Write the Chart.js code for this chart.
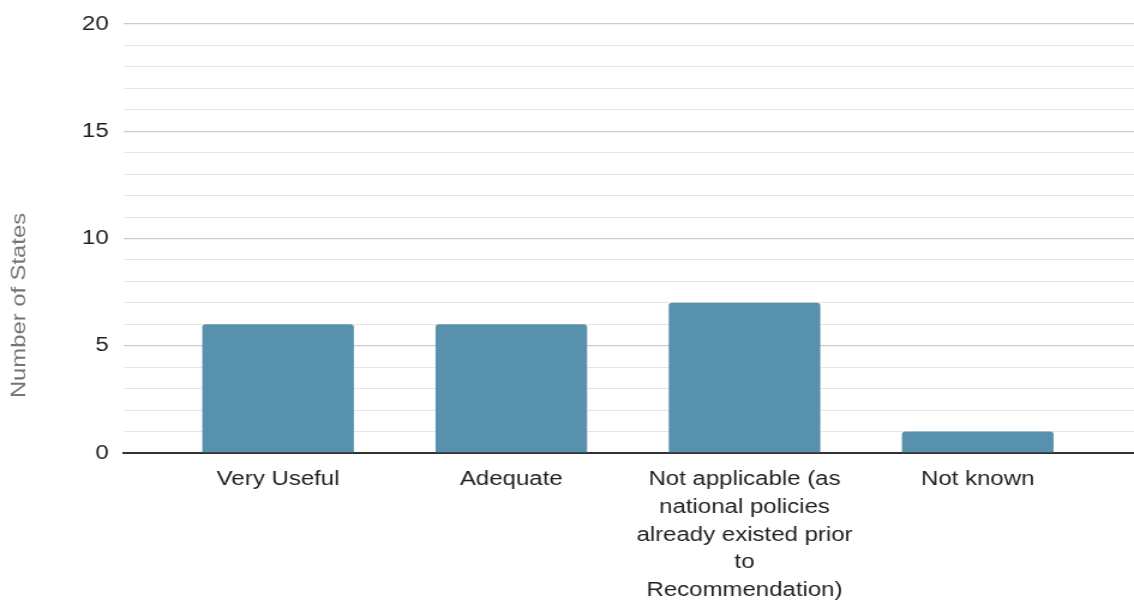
<!DOCTYPE html>
<html>
<head>
<meta charset="utf-8">
<script src="https://cdn.jsdelivr.net/npm/chart.js@4/dist/chart.umd.min.js"></script>
<style>
  html, body { margin: 0; padding: 0; background: #ffffff; overflow: hidden; }
  /* chart is laid out at 945px and widened to the full 1134px page */
  #frame { width: 945px; height: 605px; transform: scaleX(1.2); transform-origin: 0 0; }
</style>
</head>
<body>
<div id="frame"><canvas id="chart"></canvas></div>
<script>
// Survey answers: how useful the Recommendation was, per number of States
const categories = [
  'Very Useful',
  'Adequate',
  'Not applicable (as national policies already existed prior to Recommendation)',
  'Not known'
];
const tickLabels = [
  ['Very Useful'],
  ['Adequate'],
  ['Not applicable (as', 'national policies', 'already existed prior', 'to', 'Recommendation)'],
  ['Not known']
];
const stateCounts = [6, 6, 7, 1];
const yMajorTicks = [0, 5, 10, 15, 20];
const yAxisTitle = 'Number of States';

const FONT = '"Liberation Sans", Arial, Helvetica, sans-serif';

// Rotated y-axis title, centred on the page height
const sideTitle = {
  id: 'sideTitle',
  afterDraw(chart) {
    const ctx = chart.ctx;
    ctx.save();
    ctx.translate(16.3, chart.height / 2 + 3);
    ctx.rotate(-Math.PI / 2);
    ctx.scale(1.19, 0.78);
    ctx.font = '20px ' + FONT;
    ctx.fillStyle = '#757575';
    ctx.textAlign = 'center';
    ctx.textBaseline = 'middle';
    ctx.fillText(yAxisTitle, 0, 0);
    ctx.restore();
  }
};

new Chart(document.getElementById('chart'), {
  type: 'bar',
  data: {
    datasets: [{
      label: yAxisTitle,
      data: stateCounts.map((v, i) => ({ x: i, y: v })),
      backgroundColor: '#5891ad',
      borderWidth: 0,
      borderRadius: { topLeft: 3, topRight: 3, bottomLeft: 0, bottomRight: 0 },
      borderSkipped: false,
      categoryPercentage: 1,
      barPercentage: 0.65
    }]
  },
  options: {
    responsive: true,
    maintainAspectRatio: false,
    devicePixelRatio: 1,
    animation: false,
    layout: { padding: { top: 19, right: 0, bottom: 0, left: 0 } },
    plugins: {
      legend: { display: false },
      tooltip: { enabled: false }
    },
    scales: {
      x: {
        type: 'linear',
        offset: false,
        min: -0.665,
        max: 3.67,
        afterBuildTicks(scale) {
          scale.ticks = categories.map((_, i) => ({ value: i }));
        },
        afterFit(scale) { scale.height = 152; },
        grid: { display: false, drawTicks: false, tickLength: 0 },
        border: { display: true, color: '#333333', width: 2 },
        ticks: {
          autoSkip: false,
          maxRotation: 0,
          minRotation: 0,
          padding: 13,
          color: '#1f1f1f',
          font: { family: FONT, size: 20, lineHeight: 1.38 },
          callback: (value, index) => tickLabels[index]
        }
      },
      y: {
        min: 0,
        max: 20,
        afterFit(scale) { scale.width = 102.5; },
        grid: {
          drawTicks: false,
          tickLength: 0,
          color: (c) => yMajorTicks.includes(c.tick.value) ? '#cccccc' : '#e6e6e6',
          lineWidth: (c) => yMajorTicks.includes(c.tick.value) ? 1.3 : 1
        },
        border: { display: false },
        ticks: {
          stepSize: 1,
          autoSkip: false,
          padding: 12,
          color: '#1f1f1f',
          font: { family: FONT, size: 20 },
          callback: (value) => yMajorTicks.includes(value) ? String(value) : ''
        }
      }
    }
  },
  plugins: [sideTitle]
});
</script>
</body>
</html>
